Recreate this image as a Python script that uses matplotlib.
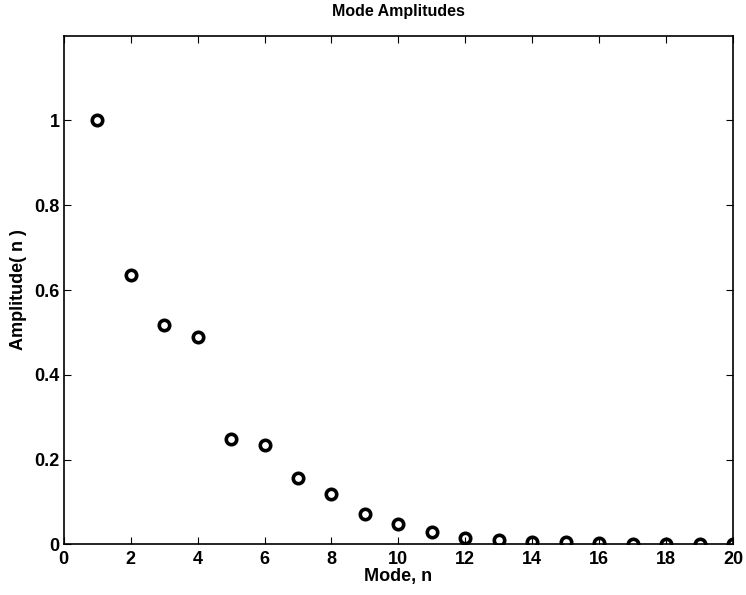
import matplotlib
matplotlib.use("Agg")
import matplotlib.pyplot as plt

# mode amplitudes
modes = list(range(1, 21))
amps = [1.0, 0.636, 0.518, 0.489, 0.248, 0.234, 0.157, 0.118, 0.072, 0.047,
        0.028, 0.016, 0.0094, 0.006, 0.0047, 0.002, 0.0012, 0.0008, 0.0005, 0.0003]
xticks = list(range(0, 21, 2))
yticks = [0, 0.2, 0.4, 0.6, 0.8, 1.0]
yticklabels = ["0", "0.2", "0.4", "0.6", "0.8", "1"]

plt.rcParams['font.family'] = ['Liberation Sans', 'DejaVu Sans']
plt.rcParams['font.weight'] = 'bold'

fig = plt.figure(figsize=(7.46, 5.95), dpi=100)
ax = fig.add_axes([0.0854, 0.0852, 0.8972, 0.8548])

ax.plot(modes, amps, 'o', mfc='none', mec='black', mew=2.6, ms=7.5)

ax.set_xlim(0, 20)
ax.set_ylim(0, 1.2)
ax.set_xticks(xticks)
ax.set_yticks(yticks)
ax.set_yticklabels(yticklabels)
ax.tick_params(direction='in', length=5, width=0.8, top=True, right=True,
               labelsize=13)
ax.tick_params(axis='x', pad=5)
ax.tick_params(axis='y', pad=3)
for lab in ax.get_xticklabels() + ax.get_yticklabels():
    lab.set_fontweight('bold')
for s in ax.spines.values():
    s.set_linewidth(1.2)

ax.set_title("Mode Amplitudes", fontsize=11.5, fontweight='bold', pad=14)
ax.set_xlabel("Mode, n", fontsize=13, fontweight='bold', labelpad=0)
ax.set_ylabel("Amplitude( n )", fontsize=13, fontweight='bold', labelpad=5)

fig.savefig("out.png", dpi=100)
